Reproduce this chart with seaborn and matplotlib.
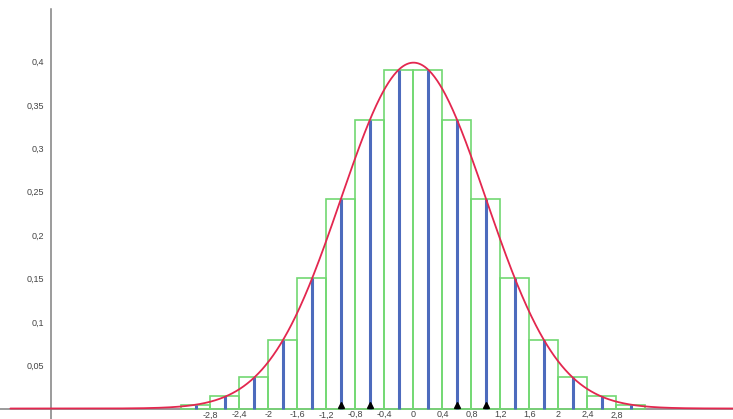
import numpy as np
import matplotlib
matplotlib.use('Agg')
import matplotlib.pyplot as plt
import matplotlib.transforms as mtransforms
from matplotlib.ticker import FixedLocator, FuncFormatter
import seaborn as sns

# histogram classes (width 0.4) and bar heights
bin_edges = [-3.2, -2.8, -2.4, -2.0, -1.6, -1.2, -0.8, -0.4, 0.0,
             0.4, 0.8, 1.2, 1.6, 2.0, 2.4, 2.8, 3.2]
bin_mids = [-3.0, -2.6, -2.2, -1.8, -1.4, -1.0, -0.6, -0.2,
            0.2, 0.6, 1.0, 1.4, 1.8, 2.2, 2.6, 3.0]
bar_heights = [0.004, 0.014, 0.036, 0.079, 0.150, 0.242, 0.333, 0.391,
               0.391, 0.333, 0.242, 0.150, 0.079, 0.036, 0.014, 0.004]

# points marked on the x axis
marked_x = [-1.0, -0.6, 0.6, 1.0]

# density curve parameters (standard normal)
mu, sigma = 0.0, 1.0

x_ticks = [-2.8, -2.4, -2.0, -1.6, -1.2, -0.8, -0.4, 0.0,
           0.4, 0.8, 1.2, 1.6, 2.0, 2.4, 2.8]
x_minor = [-4.2, -3.8, -3.4, 3.4, 3.8, 4.2]
y_ticks = [0.05, 0.1, 0.15, 0.2, 0.25, 0.3, 0.35, 0.4, 0.45]
low_labels = [-2.8, -1.2, 2.8]

GREEN = '#72d872'
BLUE = '#4d6bbd'
RED = '#e3274f'
AXIS = '#808080'

sns.set_style('white')
plt.rcParams['font.family'] = ['Liberation Sans', 'DejaVu Sans']
plt.rcParams['axes.unicode_minus'] = False

fig = plt.figure(figsize=(7.33, 4.19), dpi=100)
ax = fig.add_axes([0, 0, 1, 1])

sns.histplot(x=bin_mids, weights=bar_heights, bins=bin_edges, fill=False,
             element='bars', color=GREEN, linewidth=1.2, ax=ax, zorder=2)
ax.vlines(bin_mids, 0, bar_heights, color=BLUE, linewidth=2.2, zorder=3)

xs = np.linspace(-5.56, 4.6, 800)
ys = np.exp(-0.5 * ((xs - mu) / sigma) ** 2) / (sigma * np.sqrt(2 * np.pi))
sns.lineplot(x=xs, y=ys, color=RED, linewidth=1.3, ax=ax, zorder=4)

up = mtransforms.ScaledTranslation(0, 2.2 / 72, fig.dpi_scale_trans)
ax.plot(marked_x, [0] * len(marked_x), linestyle='none', marker='^',
        color='black', markersize=4.5, transform=ax.transData + up, zorder=5)

ax.set_xlim(-5.703, 4.407)
ax.set_ylim(-0.0121, 0.4712)
ax.set_xlabel('')
ax.set_ylabel('')

for side in ['top', 'right']:
    ax.spines[side].set_visible(False)
ax.spines['left'].set_position(('data', -5.0))
ax.spines['bottom'].set_position(('data', 0.0))
ax.spines['left'].set_bounds(-0.0121, 0.461)
for side in ['left', 'bottom']:
    ax.spines[side].set_color(AXIS)
    ax.spines[side].set_linewidth(1.1)
    ax.spines[side].set_zorder(1)

comma = FuncFormatter(lambda v, p: f'{v:g}'.replace('.', ',') if abs(v) > 1e-9 else '0')
ax.xaxis.set_major_locator(FixedLocator(x_ticks))
ax.xaxis.set_minor_locator(FixedLocator(x_minor))
ax.xaxis.set_major_formatter(comma)
ax.yaxis.set_major_locator(FixedLocator(y_ticks))
ax.yaxis.set_major_formatter(FuncFormatter(
    lambda v, p: '' if v > 0.42 else f'{v:g}'.replace('.', ',')))

ax.tick_params(axis='both', which='both', direction='inout', length=4,
               width=0.8, color=AXIS, labelsize=6.5, labelcolor='#444444')
ax.tick_params(axis='x', pad=-1)
ax.tick_params(axis='y', pad=3)

down = mtransforms.ScaledTranslation(0, -0.9 / 72, fig.dpi_scale_trans)
for val, lab in zip(x_ticks, ax.get_xticklabels()):
    if any(abs(val - v) < 1e-9 for v in low_labels):
        lab.set_transform(lab.get_transform() + down)

fig.savefig('out.png', dpi=100, facecolor='white')
